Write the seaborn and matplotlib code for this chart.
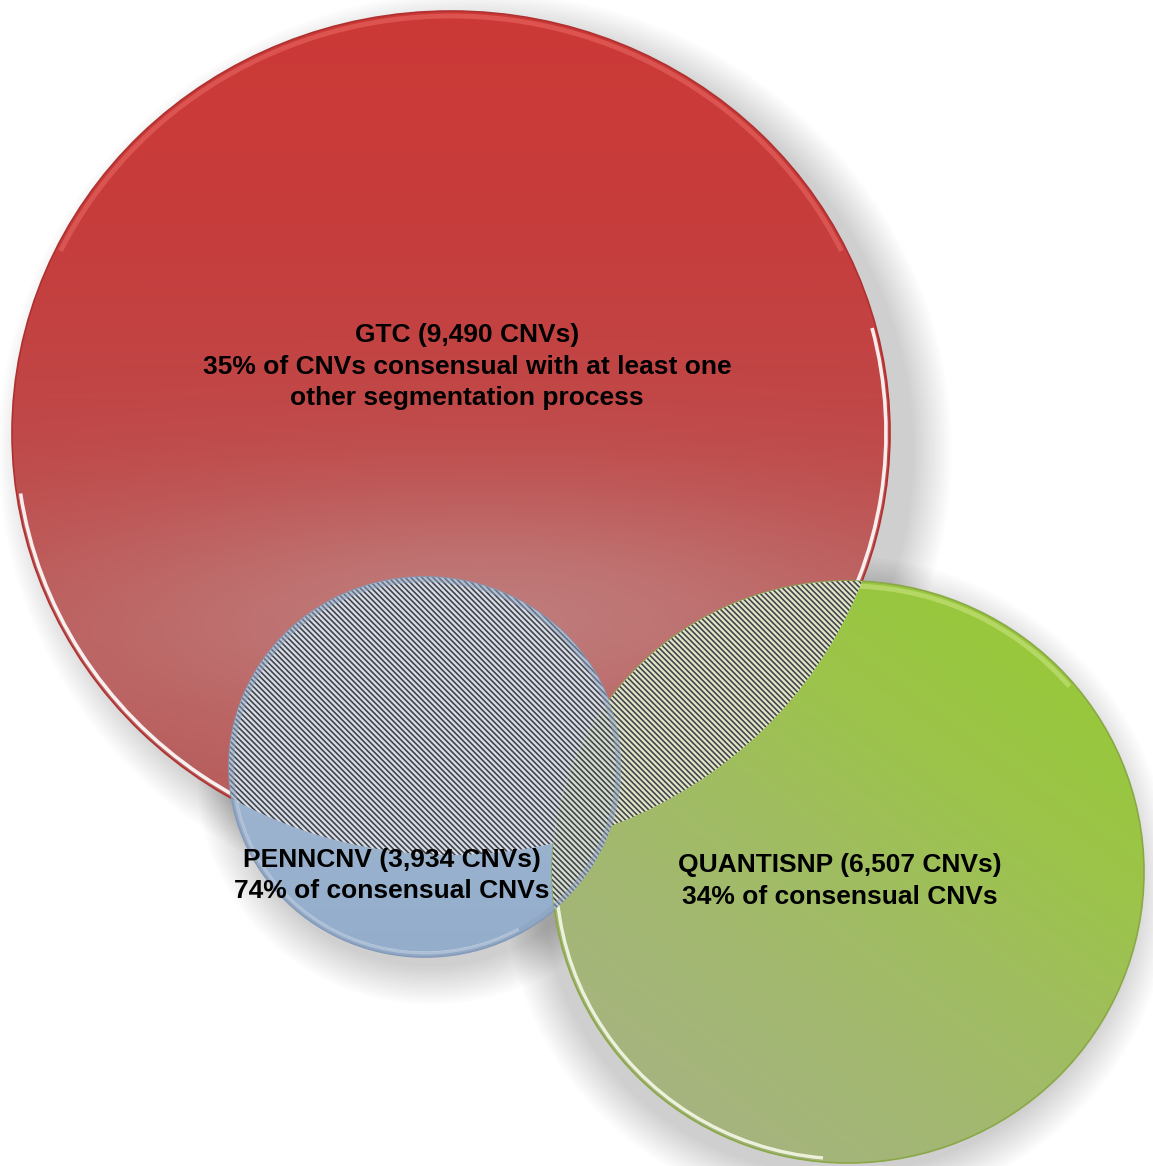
import numpy as np
import matplotlib
matplotlib.use("Agg")
import matplotlib.pyplot as plt
from matplotlib.patches import Ellipse, Arc
from matplotlib.colors import to_rgb
import seaborn as sns

# ---------------- data ----------------
methods = ["GTC", "PENNCNV", "QUANTISNP"]
cnv_counts = [9490, 3934, 6507]
consensus_pct = [35, 74, 34]
consensus_text = ["of CNVs consensual with at least one\nother segmentation process",
                  "of consensual CNVs",
                  "of consensual CNVs"]

# ---------------- style ----------------
sns.set_theme(style="white")
plt.rcParams['font.family'] = ['Liberation Sans', 'DejaVu Sans']
plt.rcParams['hatch.linewidth'] = 1.2

W, H = 1153, 1166
fig = plt.figure(figsize=(W / 100, H / 100), dpi=100)
ax = fig.add_axes([0, 0, 1, 1])

# layout (pixel space, y downward)
centers = [(451, 433), (425, 767), (848, 872)]
radii = [(439, 422), (196, 190), (296, 291)]
outline_cols = ["#b03030", "#7f97b8", "#8aa847"]
label_pos = [(467, 335), (392, 860), (840, 865)]
line_gap = [31.5, 31.5, 32.0]


def grid(c, r, n=500):
    cx, cy = c
    rx, ry = r
    x0, x1 = cx - rx - 3, cx + rx + 3
    y0, y1 = cy - ry - 3, cy + ry + 3
    X, Y = np.meshgrid(np.linspace(x0, x1, n), np.linspace(y0, y1, n))
    return X, Y, (x0, x1, y1, y0)


def clip_ellipse(c, r):
    return Ellipse(c, 2 * r[0], 2 * r[1], transform=ax.transData)


def blend(rgb, col, w):
    col = np.array(to_rgb(col))
    return rgb * (1 - w[..., None]) + col * w[..., None]


# soft shadows
for (c, r), off, a in zip(zip(centers, radii), [(24, 18), (6, 10), (-10, 12)], [0.013, 0.010, 0.010]):
    for k in range(16):
        sh = Ellipse((c[0] + off[0], c[1] + off[1]), 2 * (r[0] + k * 2.5), 2 * (r[1] + k * 2.5),
                     facecolor="black", edgecolor="none", alpha=a, zorder=1)
        ax.add_patch(sh)

# ---------- red circle (GTC) ----------
X, Y, ext = grid(centers[0], radii[0])
t = np.clip((Y - (centers[0][1] - radii[0][1])) / (2 * radii[0][1]), 0, 1)
red_cmap = sns.blend_palette(["#cc3936", "#c63d3c", "#c04747", "#ba5756", "#b65e5d"], as_cmap=True)
rgb = red_cmap(t)[..., :3]
glow = 0.78 * np.exp(-((X - 480) / 430) ** 2 - ((Y - 615) / 125) ** 2)
rgb = blend(rgb, "#c08584", glow)
im = ax.imshow(rgb, extent=ext, origin="upper", interpolation="bilinear", aspect="auto", zorder=2)
im.set_clip_path(clip_ellipse(centers[0], radii[0]))

# ---------- blue circle (PENNCNV) ----------
X, Y, ext = grid(centers[1], radii[1])
t = np.clip((Y - (centers[1][1] - radii[1][1])) / (2 * radii[1][1]), 0, 1)
blue_cmap = sns.blend_palette(["#aabdd6", "#9eb5d0", "#93adcb"], as_cmap=True)
rgb = blue_cmap(t)[..., :3]
im = ax.imshow(rgb, extent=ext, origin="upper", interpolation="bilinear", aspect="auto", zorder=3)
im.set_clip_path(clip_ellipse(centers[1], radii[1]))

# ---------- green circle (QUANTISNP) ----------
X, Y, ext = grid(centers[2], radii[2])
u = 0.5 + 0.5 * (0.6 * (X - centers[2][0]) / radii[2][0] - 0.8 * (Y - centers[2][1]) / radii[2][1])
green_cmap = sns.blend_palette(["#a6b47f", "#a3b872", "#a0bd60", "#9cc44a", "#98c83c"], as_cmap=True)
rgb = green_cmap(np.clip(u, 0, 1))[..., :3]
im = ax.imshow(rgb, extent=ext, origin="upper", interpolation="bilinear", aspect="auto", zorder=4)
im.set_clip_path(clip_ellipse(centers[2], radii[2]))

# ---------- rims ----------
zr = [2.5, 3.5, 4.5]
for i, (c, r) in enumerate(zip(centers, radii)):
    ax.add_patch(Ellipse(c, 2 * r[0], 2 * r[1], facecolor="none",
                         edgecolor=outline_cols[i], lw=1.2, zorder=zr[i]))
# white glass highlights (lower part; y axis points down so 0..180 is the lower half)
ax.add_patch(Arc(centers[0], 2 * (radii[0][0] - 4), 2 * (radii[0][1] - 4), theta1=-14, theta2=172,
                 color="white", lw=2.6, alpha=0.9, zorder=2.6))
ax.add_patch(Arc(centers[0], 2 * (radii[0][0] - 5), 2 * (radii[0][1] - 5), theta1=205, theta2=335,
                 color="#e86663", lw=3.5, alpha=0.6, zorder=2.6))
ax.add_patch(Arc(centers[1], 2 * (radii[1][0] - 4), 2 * (radii[1][1] - 4), theta1=60, theta2=200,
                 color="#dde8f4", lw=2.2, alpha=0.8, zorder=3.6))
ax.add_patch(Arc(centers[2], 2 * (radii[2][0] - 4), 2 * (radii[2][1] - 4), theta1=95, theta2=205,
                 color="#f4f8e6", lw=2.4, alpha=0.9, zorder=4.6))
ax.add_patch(Arc(centers[2], 2 * (radii[2][0] - 5), 2 * (radii[2][1] - 5), theta1=225, theta2=320,
                 color="#c9e27f", lw=3.5, alpha=0.6, zorder=4.6))

# ---------- hatched consensus regions (pairwise overlaps) ----------
pairs = [(1, 0, "#d8dde6"), (2, 0, "#e2e6c6"), (2, 1, "#d6decf")]
for a, b, tint in pairs:
    p = Ellipse(centers[a], 2 * radii[a][0], 2 * radii[a][1], facecolor=tint,
                edgecolor="#42454c", lw=0, hatch="\\" * 6, zorder=5)
    ax.add_patch(p)
    p.set_clip_path(clip_ellipse(centers[b], radii[b]))
# soft blue ring around PENNCNV inside the hatch
ax.add_patch(Ellipse(centers[1], 2 * radii[1][0] - 5, 2 * radii[1][1] - 5, facecolor="none",
                     edgecolor="#8ea3c0", lw=4, alpha=0.5, zorder=5.2))

# ---------- labels ----------
for i, m in enumerate(methods):
    lines = [f"{m} ({cnv_counts[i]:,} CNVs)"] + \
            (f"{consensus_pct[i]}% " + consensus_text[i]).split("\n")
    x, y = label_pos[i]
    for j, ln in enumerate(lines):
        ax.text(x, y + j * line_gap[i], ln, ha="center", va="center", fontsize=19,
                fontweight="bold", color="black", zorder=10)

ax.set_xlim(0, W)
ax.set_ylim(H, 0)
ax.axis("off")
fig.savefig("out.png", dpi=100, facecolor="white")
